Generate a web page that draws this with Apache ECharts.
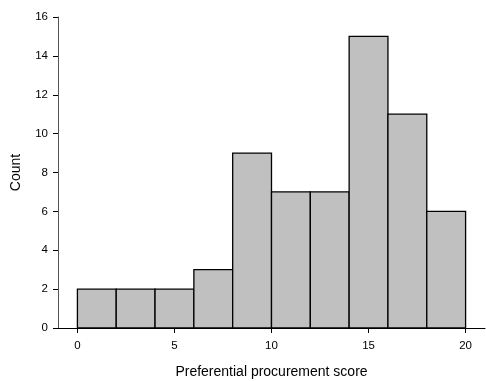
<!DOCTYPE html>
<html><head><meta charset="utf-8">
<script src="https://cdn.jsdelivr.net/npm/echarts@6/dist/echarts.min.js"></script>
<style>html,body{margin:0;padding:0;background:#fff}#c{width:486px;height:381px}</style>
</head><body><div id="c"></div>
<script>
const binStarts = [0, 2, 4, 6, 8, 10, 12, 14, 16, 18];
const binWidth = 2;
const counts = [2, 2, 2, 3, 9, 7, 7, 15, 11, 6];
const xTickValues = [0, 5, 10, 15, 20];
const yTickValues = [0, 2, 4, 6, 8, 10, 12, 14, 16];
const xTitle = 'Preferential procurement score';
const yTitle = 'Count';

const data = binStarts.map((s, i) => [s, s + binWidth, counts[i]]);
const font = 'Liberation Sans, Arial, sans-serif';
const chart = echarts.init(document.getElementById('c'));
chart.setOption({
  animation: false,
  grid: {left: 58, right: 1, top: 17, bottom: 53, containLabel: false, outerBoundsMode: 'none'},
  xAxis: {
    type: 'value', min: -1, max: 21,
    axisLine: {onZero: false, lineStyle: {color: '#000', width: 1}},
    axisTick: {customValues: xTickValues, length: 5, lineStyle: {color: '#000'}},
    axisLabel: {customValues: xTickValues, color: '#000', fontFamily: font, fontSize: 11.5, margin: 12},
    splitLine: {show: false},
    name: xTitle, nameLocation: 'middle', nameGap: 37,
    nameTextStyle: {color: '#000', fontFamily: font, fontSize: 14}
  },
  yAxis: {
    type: 'value', min: 0, max: 16, interval: 2,
    axisLine: {show: true, onZero: false, lineStyle: {color: '#555', width: 1}},
    axisTick: {show: true, length: 5, lineStyle: {color: '#000'}},
    axisLabel: {customValues: yTickValues, color: '#000', fontFamily: font, fontSize: 11.5, margin: 10},
    splitLine: {show: false},
    name: yTitle, nameLocation: 'middle', nameGap: 35, nameRotate: 90,
    nameTextStyle: {color: '#000', fontFamily: font, fontSize: 14}
  },
  series: [{
    type: 'custom',
    data: data,
    renderItem: function (params, api) {
      const p0 = api.coord([api.value(0), api.value(2)]);
      const p1 = api.coord([api.value(1), 0]);
      return {
        type: 'rect',
        shape: {x: p0[0], y: p0[1], width: p1[0] - p0[0], height: p1[1] - p0[1]},
        style: {fill: '#c0c0c0', stroke: '#000', lineWidth: 1.3}
      };
    }
  }]
});
</script></body></html>
